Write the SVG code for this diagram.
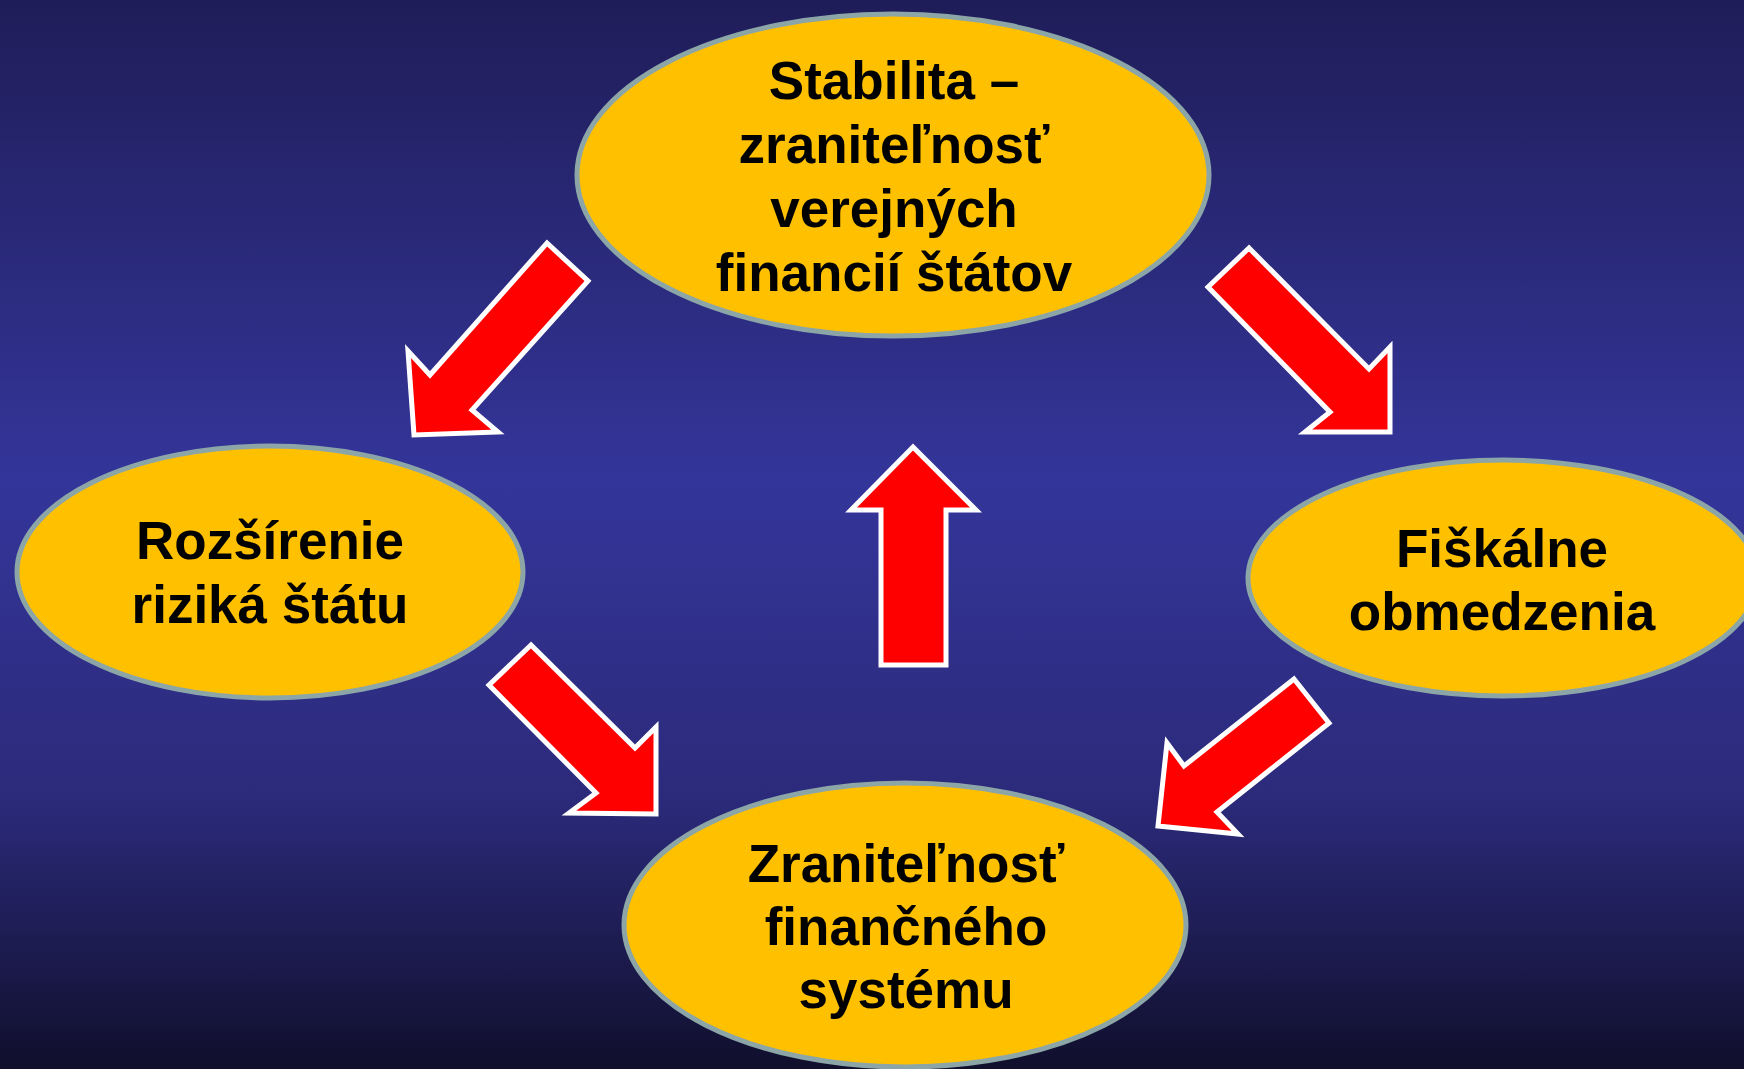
<svg xmlns="http://www.w3.org/2000/svg" width="1744" height="1069" viewBox="0 0 1744 1069">
<defs>
<linearGradient id="bg" x1="0" y1="0" x2="0" y2="1">
<stop offset="0" stop-color="#1f1d58"/>
<stop offset="0.45" stop-color="#34359a"/>
<stop offset="0.75" stop-color="#2b2a7a"/>
<stop offset="1" stop-color="#100f2c"/>
</linearGradient>
<style>
.node ellipse{fill:#FFC000;stroke:#8CA6A8;stroke-width:5}
.node text{font-family:"Liberation Sans",Arial,sans-serif;font-weight:bold;font-size:53px;fill:#000;text-anchor:middle}
.arrow{fill:#FF0000;stroke:#FFFFFF;stroke-width:5;stroke-linejoin:miter}
</style>
</defs>
<rect x="0" y="0" width="1744" height="1069" fill="url(#bg)"/>
<g id="connectors">
<polygon class="arrow" points="547,243 588,281 472,410 498,432 414,435 408,351 430,375"/>
<polygon class="arrow" points="1249,248 1208,287 1330,412 1305,432 1390,432 1390,347 1369,369"/>
<polygon class="arrow" points="531,645 489,685 596,793 569,813 656,814 656,727 635,748"/>
<polygon class="arrow" points="1294,679 1329,723 1217,812 1238,834 1158,826 1167,743 1184,766"/>
<polygon class="arrow" points="913,447 976,510 946,510 946,665 881,665 881,510 851,510"/>
</g>
<g id="node-stabilita" class="node">
<ellipse cx="893" cy="175" rx="316" ry="161"/>
<text x="894" y="99">Stabilita –</text>
<text x="894" y="163">zraniteľnosť</text>
<text x="894" y="227">verejných</text>
<text x="894" y="291">financií štátov</text>
</g>
<g id="node-rozsirenie" class="node">
<ellipse cx="270" cy="572" rx="253" ry="126"/>
<text x="270" y="559">Rozšírenie</text>
<text x="270" y="623">riziká štátu</text>
</g>
<g id="node-fiskalne" class="node">
<ellipse cx="1503" cy="578" rx="255" ry="118"/>
<text x="1502" y="567">Fiškálne</text>
<text x="1502" y="630">obmedzenia</text>
</g>
<g id="node-zranitelnost" class="node">
<ellipse cx="905" cy="925" rx="281" ry="142"/>
<text x="906" y="882">Zraniteľnosť</text>
<text x="906" y="945">finančného</text>
<text x="906" y="1008">systému</text>
</g>
</svg>
